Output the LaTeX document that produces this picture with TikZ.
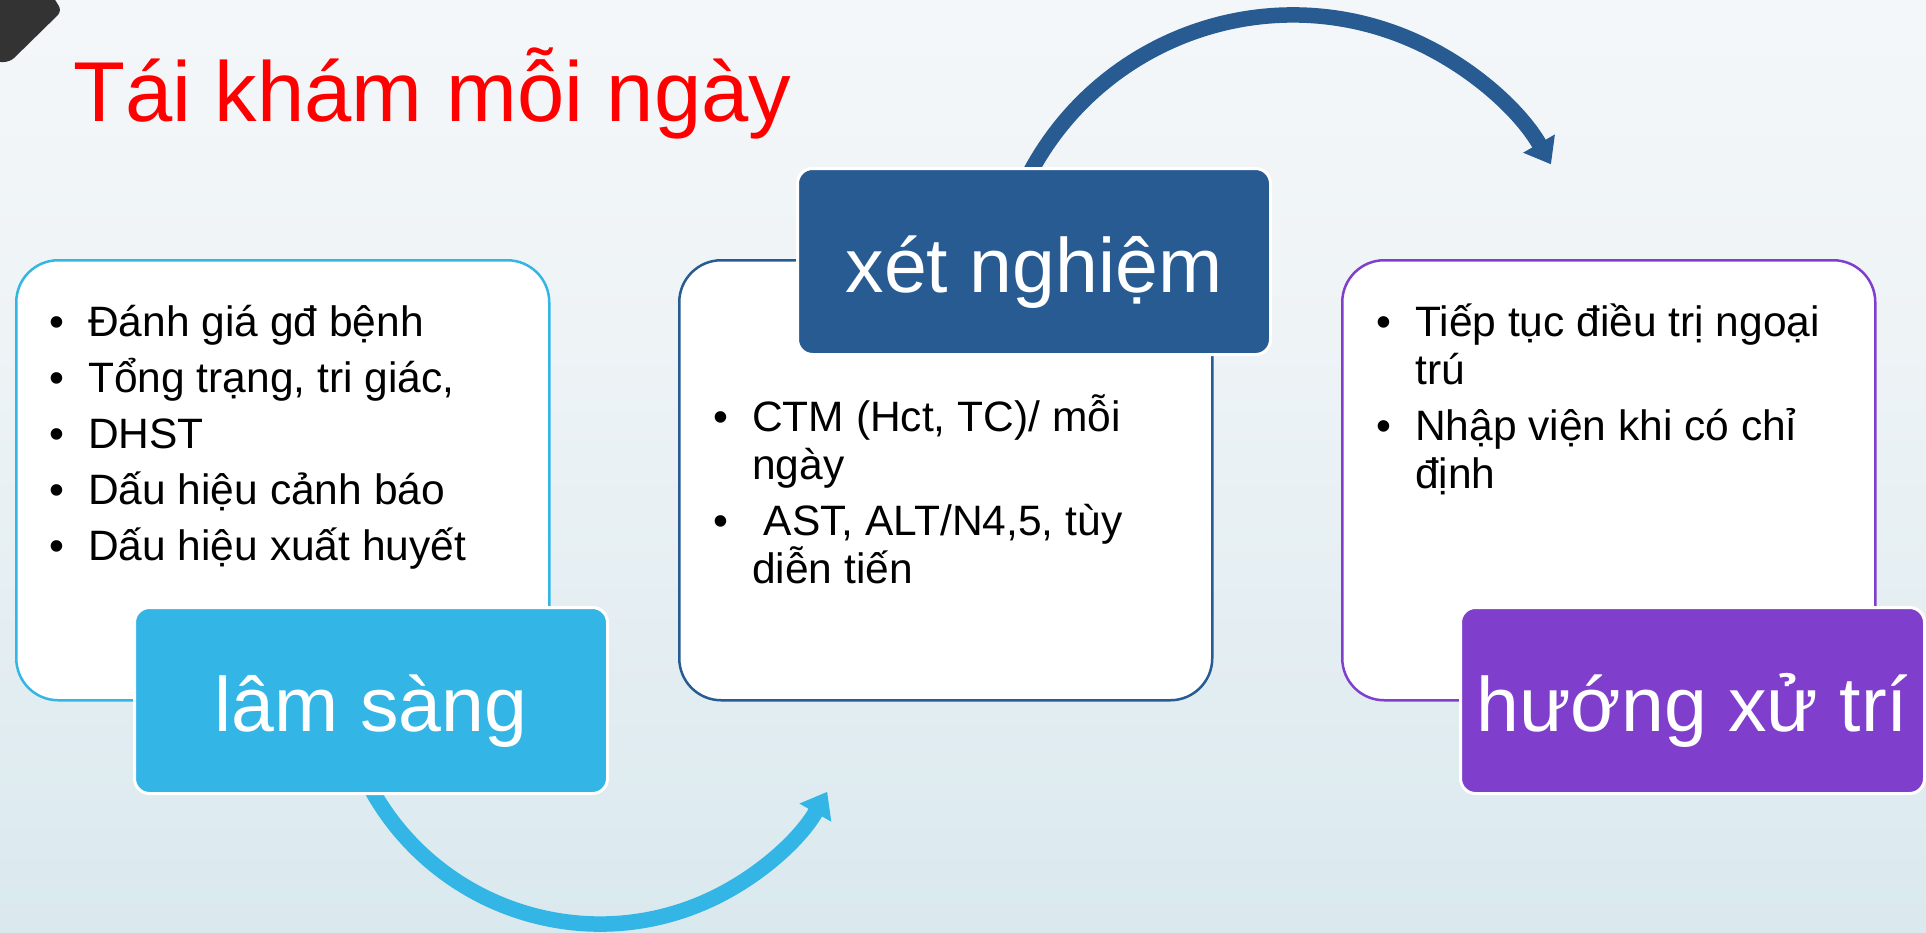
\documentclass[tikz,border=0pt]{standalone}
\usepackage{fontspec}
\setmainfont{Liberation Sans}
\usetikzlibrary{arrows.meta}
\definecolor{cblue}{RGB}{51,181,229}
\definecolor{cdblue}{RGB}{39,91,146}
\definecolor{cpurple}{RGB}{127,63,204}
\definecolor{cdark}{RGB}{51,51,51}
\definecolor{titlered}{RGB}{255,0,0}
\definecolor{bgA}{RGB}{205,226,233}
\definecolor{bgB}{RGB}{218,233,238}
\definecolor{bgC}{RGB}{238,243,246}
\definecolor{bgD}{RGB}{252,253,254}
\pgfdeclareverticalshading{bgshade}{100bp}{color(0bp)=(bgA); color(25bp)=(bgB); color(57bp)=(bgC); color(100bp)=(bgD)}
\newcommand\mybul{\makebox[38.5pt][l]{•}}
\newcommand\mycont{\hspace*{38.5pt}}
\newcommand\mylist[1]{\vtop{\hsize=520pt\parindent=0pt\parskip=8pt\baselineskip=48pt\rightskip=0pt plus 1fil #1}}
\tikzset{
  cbox/.style={anchor=north west, minimum width=533pt, minimum height=440pt, inner sep=0pt,
    rounded corners=42pt, line width=2.5pt, fill=white},
  lblbox/.style={anchor=north west, minimum width=473pt, minimum height=186pt, inner sep=0pt,
    rounded corners=15pt, line width=3pt, draw=white, text=white,
    font=\fontsize{77}{90}\selectfont, text height=62pt, text depth=0pt},
  txt/.style={anchor=base west, inner sep=0pt, font=\fontsize{42.5}{48}\selectfont},
  arr/.style={line width=15.5pt, -{Triangle[length=24pt, width=35pt]}}
}
\begin{document}
\begin{tikzpicture}[x=1pt,y=-1pt]
\useasboundingbox (0,0) rectangle (1926,932);
\clip (0,0) rectangle (1926,932);
\shade[shading=bgshade] (0,0) rectangle (1926,932);
% corner mark
\fill[cdark, rounded corners=6pt] (0,-5) -- (52,-5) -- (62,11) -- (10,62) -- (-5,62) -- cycle;
% title
\node[anchor=base west, inner sep=0pt, text=titlered, font=\fontsize{85}{100}\selectfont] (title) at (73,121) {Tái khám mỗi ngày};
% arc centres
\coordinate (cA) at (600,662.7);
\coordinate (cB) at (1292.8,312.8);
% arrows
\draw[arr, draw=cblue] ([shift={(155:261.3)}]cA) arc[start angle=155, end angle=29.6, radius=261.3];
\draw[arr, draw=cdblue] ([shift={(205:297.8)}]cB) arc[start angle=205, end angle=330.1, radius=297.8];
% content boxes
\node[cbox, draw=cblue] (lbox) at (15,259) {};
\node[cbox, draw=cdblue] (mbox) at (678,259) {};
\node[cbox, draw=cpurple] (rbox) at (1341,259) {};
% label boxes
\node[lblbox, fill=cblue] (ls) at (133,606) {lâm sàng};
\node[lblbox, fill=cdblue] (xn) at (796,167) {xét nghiệm};
\node[lblbox, fill=cpurple, minimum width=464pt] (hx) at (1459,606) {hướng xử trí};
% texts
\node[txt] (ltxt) at (49.5,336) {\mylist{%
\mybul Đánh giá gđ bệnh\par
\mybul Tổng trạng, tri giác,\par
\mybul DHST\par
\mybul Dấu hiệu cảnh báo\par
\mybul Dấu hiệu xuất huyết\par}};
\node[txt] (mtxt) at (713.5,431) {\mylist{%
\mybul CTM (Hct, TC)/ mỗi\newline
\mycont ngày\par
\mybul\hspace{0.278em}AST, ALT/N4,5, tùy\newline
\mycont diễn tiến\par}};
\node[txt] (rtxt) at (1376.5,336) {\mylist{%
\mybul Tiếp tục điều trị ngoại\newline
\mycont trú\par
\mybul Nhập viện khi có chỉ\newline
\mycont định\par}};
\end{tikzpicture}
\end{document}
